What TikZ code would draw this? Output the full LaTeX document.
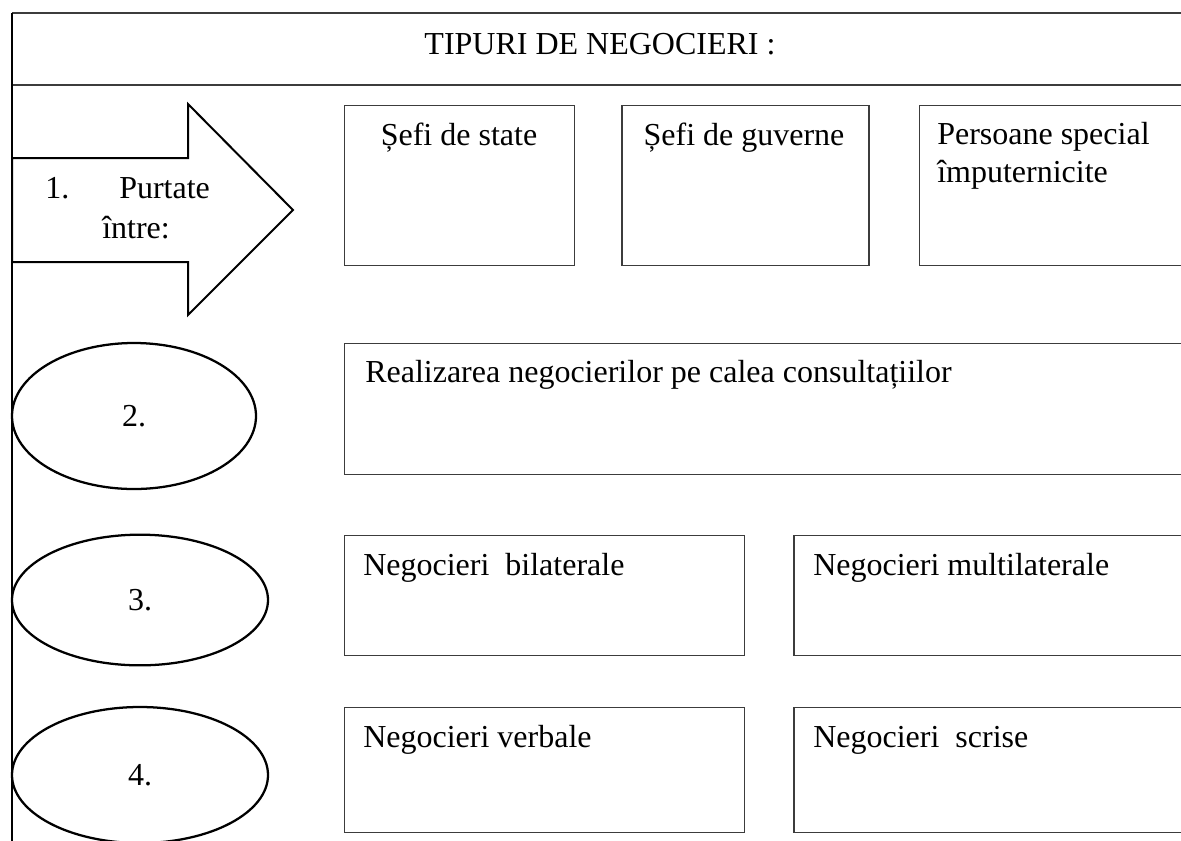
\documentclass[tikz,border=0pt]{standalone}
\usepackage{fontspec}
\setmainfont{Liberation Serif}
\usetikzlibrary{shapes, positioning, calc}
\definecolor{linegray}{HTML}{3C3C3C}
\tikzstyle{box} = [rectangle, draw=linegray, line width=1pt, inner sep=0pt, anchor=north west, minimum height=120pt]
\tikzstyle{oval} = [ellipse, draw=black, line width=1.7pt, inner sep=0pt, text centered, font=\fontsize{24}{28}\selectfont]
\tikzstyle{txt} = [inner sep=0pt, font=\fontsize{24}{28}\selectfont]

\begin{document}
\begin{tikzpicture}[x=0.75pt, y=-0.75pt]
\useasboundingbox (0,0) rectangle (1181,840);
\clip (0,0) rectangle (1181,840);
% title frame
\draw [linegray, line width=1pt] (12,13) -- (1190,13);
\draw [linegray, line width=1pt] (12,85) -- (1190,85);
\draw [line width=1.5pt] (12,13) -- (12,845);
\node (title) [txt, anchor=base] at (600,54) {TIPURI DE NEGOCIERI :};
% row 1
\draw [line width=1.5pt, line join=miter] (12,158) -- (188,158) -- (188,104) -- (293,210) -- (188,315) -- (188,262) -- (12,262) -- cycle;
\node (n1) [txt, anchor=base west] at (45,198) {1.};
\node (p1) [txt, anchor=base west] at (119,198) {Purtate};
\node (p2) [txt, anchor=base west] at (102,238) {între:};
\node (b1) [box, minimum width=172.5pt] at (344,105) {};
\node (b2) [box, minimum width=185.25pt, right=34.5pt of b1] {};
\node (b3) [box, minimum width=205.5pt, right=36.75pt of b2] {};
\node (t1) [txt, anchor=base] at (459,145) {Șefi de state};
\node (t2) [txt, anchor=base] at (744,145) {Șefi de guverne};
\node (t3) [txt, anchor=base west] at (937,144) {Persoane special};
\node (t4) [txt, anchor=base west] at (937,182) {împuternicite};
% row 2
\node (e2) [oval, minimum width=183pt, minimum height=109.5pt] at (134,416) {2.};
\node (c1) [box, minimum width=634.5pt, minimum height=98.25pt] at (344,343) {};
\node (tc) [txt, anchor=base west] at (365,382) {Realizarea negocierilor pe calea consultațiilor};
% row 3
\node (e3) [oval, minimum width=192pt, minimum height=98pt] at (140,600) {3.};
\node (d1) [box, minimum width=300pt, minimum height=90pt] at (344,535) {};
\node (d2) [box, minimum width=298.5pt, minimum height=90pt, right=36pt of d1] {};
\node (td1) [txt, anchor=base west] at (363,575) {Negocieri~ bilaterale};
\node (td2) [txt, anchor=base west] at (813,575) {Negocieri multilaterale};
% row 4
\node (e4) [oval, minimum width=192pt, minimum height=102pt] at (140,775) {4.};
\node (f1) [box, minimum width=300pt, minimum height=93.75pt] at (344,707) {};
\node (f2) [box, minimum width=298.5pt, minimum height=93.75pt, right=36pt of f1] {};
\node (tf1) [txt, anchor=base west] at (363,747) {Negocieri verbale};
\node (tf2) [txt, anchor=base west] at (813,747) {Negocieri~ scrise};
\end{tikzpicture}
\end{document}
